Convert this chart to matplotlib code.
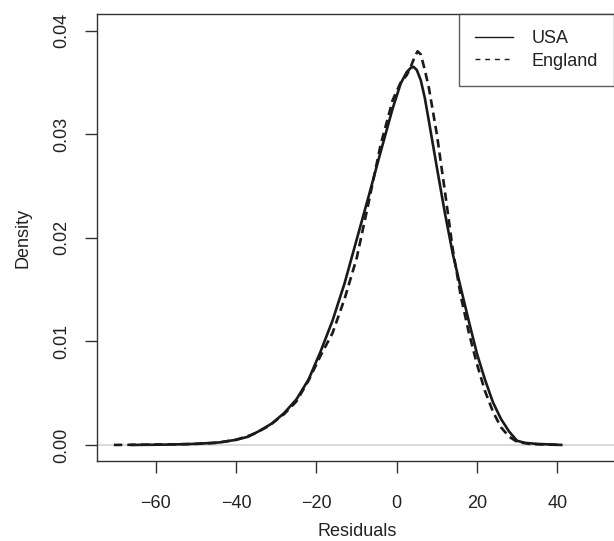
import matplotlib.pyplot as plt
from matplotlib.lines import Line2D

plt.rcParams['font.family'] = ['Liberation Sans', 'DejaVu Sans']

# density estimates
usa_x = [-66, -58, -52, -48, -44, -40, -37, -34, -31, -28, -25, -22, -19,
         -16, -13, -10, -7, -4, -1, 1, 2.5, 3.5, 4.2, 5, 6, 7, 8, 10, 12,
         14, 16, 18, 20, 22, 24, 26, 28, 30, 32, 35, 38, 41]
usa_d = [0.0, 0.00003, 0.00008, 0.00015, 0.00025, 0.0005, 0.0008, 0.0014,
         0.0021, 0.0031, 0.0044, 0.0063, 0.0090, 0.0120, 0.0156, 0.0198,
         0.0240, 0.0283, 0.0325, 0.0349, 0.0360, 0.0364, 0.0365, 0.0362,
         0.0352, 0.0335, 0.0313, 0.0268, 0.0224, 0.0184, 0.0151, 0.0119,
         0.0088, 0.0063, 0.0041, 0.0025, 0.0013, 0.0004, 0.0002, 0.0001,
         0.00005, 0.0]

eng_x = [-70.5, -62, -55, -50, -45, -40, -36, -32, -28, -25, -22, -19,
         -16, -13, -10, -7, -4, -1, 1, 2.5, 3.5, 4.5, 5.2, 6, 7, 8, 10,
         12, 14, 16, 18, 20, 22, 24, 26, 28, 30, 33, 36, 41]
eng_d = [0.0, 0.00003, 0.00006, 0.0001, 0.0002, 0.0005, 0.0010, 0.0018,
         0.0030, 0.0042, 0.0062, 0.0086, 0.0108, 0.0141, 0.0180, 0.0234,
         0.0290, 0.0333, 0.0350, 0.0357, 0.0365, 0.0375, 0.0380, 0.0377,
         0.0362, 0.0345, 0.0300, 0.0245, 0.0188, 0.0143, 0.0108, 0.0078,
         0.0052, 0.0032, 0.0017, 0.0008, 0.0003, 0.0001, 0.00005, 0.0]

x_ticks = [-60, -40, -20, 0, 20, 40]
y_ticks = [0.00, 0.01, 0.02, 0.03, 0.04]
y_labels = ['0.00', '0.01', '0.02', '0.03', '0.04']

W, H = 614, 541
fig = plt.figure(figsize=(W / 100, H / 100), dpi=100)
left, right, top, bottom = 97, 617, 14, 461
ax = fig.add_axes([left / W, 1 - bottom / H, (right - left) / W, (bottom - top) / H])

ink = '#1a1a1a'
ax.axhline(0, color='#d4d4d4', lw=1.2, zorder=1)
ax.plot(usa_x, usa_d, color=ink, lw=1.9, solid_joinstyle='round', zorder=3)
ax.plot(eng_x, eng_d, color=ink, lw=1.9, linestyle=(0, (3.2, 1.9)), zorder=3)

ax.set_xlim(-74.7, 54.9)
ax.set_ylim(-0.00155, 0.0416)
ax.set_xticks(x_ticks)
ax.set_xticklabels(['\u2212' + str(-t) if t < 0 else str(t) for t in x_ticks])
ax.set_yticks(y_ticks)
ax.set_yticklabels(y_labels, rotation=90, va='center')

for s in ax.spines.values():
    s.set_color('#333333')
    s.set_linewidth(1.0)
ax.tick_params(axis='both', length=8.5, width=1.0, color='#333333',
               labelsize=13, labelcolor='#222222')
ax.tick_params(axis='x', pad=16)
ax.tick_params(axis='y', pad=11)

ax.set_xlabel('Residuals', fontsize=13, color='#222222', va='center')
ax.xaxis.set_label_coords(0.5, -(531 - bottom) / (bottom - top))
ax.set_ylabel('Density', fontsize=13, color='#222222', va='center')
ax.yaxis.set_label_coords(-(left - 23) / (right - left), 0.5)

handles = [Line2D([], [], color=ink, lw=1.0),
           Line2D([], [], color=ink, lw=1.0, linestyle=(0, (3.5, 3.5)))]
leg = ax.legend(handles, ['USA', 'England'], loc='upper left',
                bbox_to_anchor=(459 / W, 1 - top / H), bbox_transform=fig.transFigure,
                borderaxespad=0, fontsize=13, frameon=True, fancybox=False,
                handlelength=2.1, handletextpad=1.0, borderpad=0.9,
                labelspacing=0.3)
leg.get_frame().set_edgecolor('#333333')
leg.get_frame().set_linewidth(1.0)
for t in leg.get_texts():
    t.set_color('#222222')

fig.savefig('out.png', dpi=100)
